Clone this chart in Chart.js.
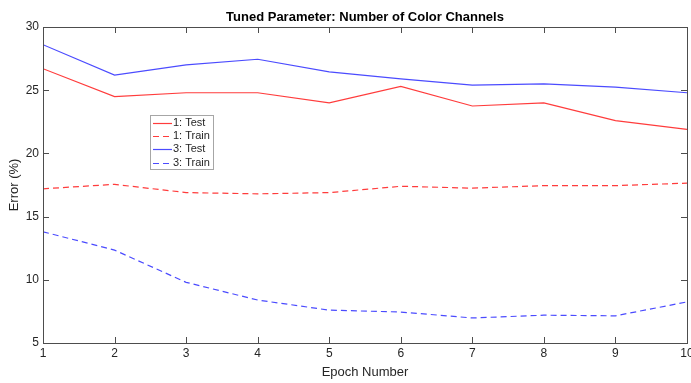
<!DOCTYPE html>
<html>
<head>
<meta charset="utf-8">
<script src="https://cdn.jsdelivr.net/npm/chart.js@4/dist/chart.umd.min.js"></script>
<style>
  html, body { margin: 0; padding: 0; background: #fff; }
  #wrap { width: 691px; height: 383px; }
</style>
</head>
<body>
<div id="wrap"><canvas id="errChart" width="691" height="383"></canvas></div>
<script>
// --- Data ---
const epochs = [1, 2, 3, 4, 5, 6, 7, 8, 9, 10];
const test1 = [26.7, 24.5, 24.8, 24.8, 24.0, 25.3, 23.75, 24.0, 22.6, 21.9];
const train1 = [17.2, 17.55, 16.9, 16.8, 16.9, 17.4, 17.25, 17.45, 17.45, 17.65];
const test3 = [28.6, 26.2, 27.0, 27.45, 26.45, 25.9, 25.4, 25.5, 25.25, 24.8];
const train3 = [13.8, 12.35, 9.8, 8.4, 7.6, 7.45, 6.98, 7.2, 7.15, 8.25];
const xTicks = [1, 2, 3, 4, 5, 6, 7, 8, 9, 10];
const yTicks = [5, 10, 15, 20, 25, 30];

const RED = '#ff3c3c';
const BLUE = '#4b4bff';
const AXIS = '#4d4d4d';
const FONT = '"Liberation Sans", Arial, sans-serif';

function toPoints(ys) {
    return epochs.map((x, i) => ({ x: x, y: ys[i] }));
}

// --- MATLAB-style axes: box, inward ticks, labels, legend ---
const matlabAxes = {
    id: 'matlabAxes',
    afterDraw(chart) {
        const c = chart.ctx;
        const a = chart.chartArea;
        const xs = chart.scales.x;
        const ys = chart.scales.y;
        const tick = 6;

        c.save();
        c.strokeStyle = AXIS;
        c.lineWidth = 1;
        c.strokeRect(Math.round(a.left) + 0.5, Math.round(a.top) + 0.5,
            Math.round(a.right - a.left), Math.round(a.bottom - a.top));

        c.beginPath();
        xTicks.forEach(v => {
            const px = Math.round(xs.getPixelForValue(v)) + 0.5;
            c.moveTo(px, a.bottom); c.lineTo(px, a.bottom - tick);
            c.moveTo(px, a.top); c.lineTo(px, a.top + tick);
        });
        yTicks.forEach(v => {
            const py = Math.round(ys.getPixelForValue(v)) + 0.5;
            c.moveTo(a.left, py); c.lineTo(a.left + tick, py);
            c.moveTo(a.right, py); c.lineTo(a.right - tick, py);
        });
        c.stroke();

        // tick labels
        c.fillStyle = '#262626';
        c.font = '12px ' + FONT;
        c.textAlign = 'center';
        c.textBaseline = 'top';
        xTicks.forEach(v => c.fillText(String(v), xs.getPixelForValue(v), a.bottom + 5));
        c.textAlign = 'right';
        c.textBaseline = 'middle';
        yTicks.forEach(v => c.fillText(String(v), a.left - 4, ys.getPixelForValue(v)));

        // axis titles
        c.font = '13px ' + FONT;
        c.textAlign = 'center';
        c.textBaseline = 'middle';
        c.fillText('Epoch Number', (a.left + a.right) / 2, 372);
        c.save();
        c.translate(14, (a.top + a.bottom) / 2);
        c.rotate(-Math.PI / 2);
        c.fillText('Error (%)', 0, 0);
        c.restore();

        // title
        c.font = 'bold 13px ' + FONT;
        c.fillStyle = '#000';
        c.fillText('Tuned Parameter: Number of Color Channels', (a.left + a.right) / 2, 17);

        // legend box
        const lx = 150, ly = 115, lw = 63, lh = 54;
        const swatch = [RED, RED, BLUE, BLUE];
        c.fillStyle = '#fff';
        c.fillRect(lx, ly, lw, lh);
        c.strokeStyle = '#a6a6a6';
        c.strokeRect(lx + 0.5, ly + 0.5, lw, lh);
        c.font = '11px ' + FONT;
        c.textAlign = 'left';
        chart.data.datasets.forEach((ds, i) => {
            const yy = ly + 8 + i * 13.2;
            c.strokeStyle = swatch[i];
            c.lineWidth = 1.2;
            c.setLineDash(ds.borderDash || []);
            c.beginPath();
            c.moveTo(lx + 3, Math.round(yy) + 0.5);
            c.lineTo(lx + 22, Math.round(yy) + 0.5);
            c.stroke();
            c.setLineDash([]);
            c.fillStyle = '#262626';
            c.fillText(ds.label, lx + 23, yy);
        });
        c.restore();
    }
};

new Chart(document.getElementById('errChart'), {
    type: 'line',
    data: {
        datasets: [
            { label: '1: Test', data: toPoints(test1), borderColor: RED },
            { label: '1: Train', data: toPoints(train1), borderColor: RED, borderDash: [6, 4] },
            { label: '3: Test', data: toPoints(test3), borderColor: BLUE },
            { label: '3: Train', data: toPoints(train3), borderColor: BLUE, borderDash: [6, 4] }
        ]
    },
    options: {
        responsive: false,
        animation: false,
        layout: { padding: { left: 43, right: 4, top: 27, bottom: 40 } },
        elements: {
            line: { borderWidth: 1.2, tension: 0, fill: false },
            point: { radius: 0 }
        },
        scales: {
            x: {
                type: 'linear', min: 1, max: 10,
                grid: { display: false }, border: { display: false },
                ticks: { display: false },
                afterFit(s) { s.height = 0; }
            },
            y: {
                min: 5, max: 30,
                grid: { display: false }, border: { display: false },
                ticks: { display: false },
                afterFit(s) { s.width = 0; }
            }
        },
        plugins: {
            legend: { display: false },
            tooltip: { enabled: false }
        }
    },
    plugins: [matlabAxes]
});
</script>
</body>
</html>
